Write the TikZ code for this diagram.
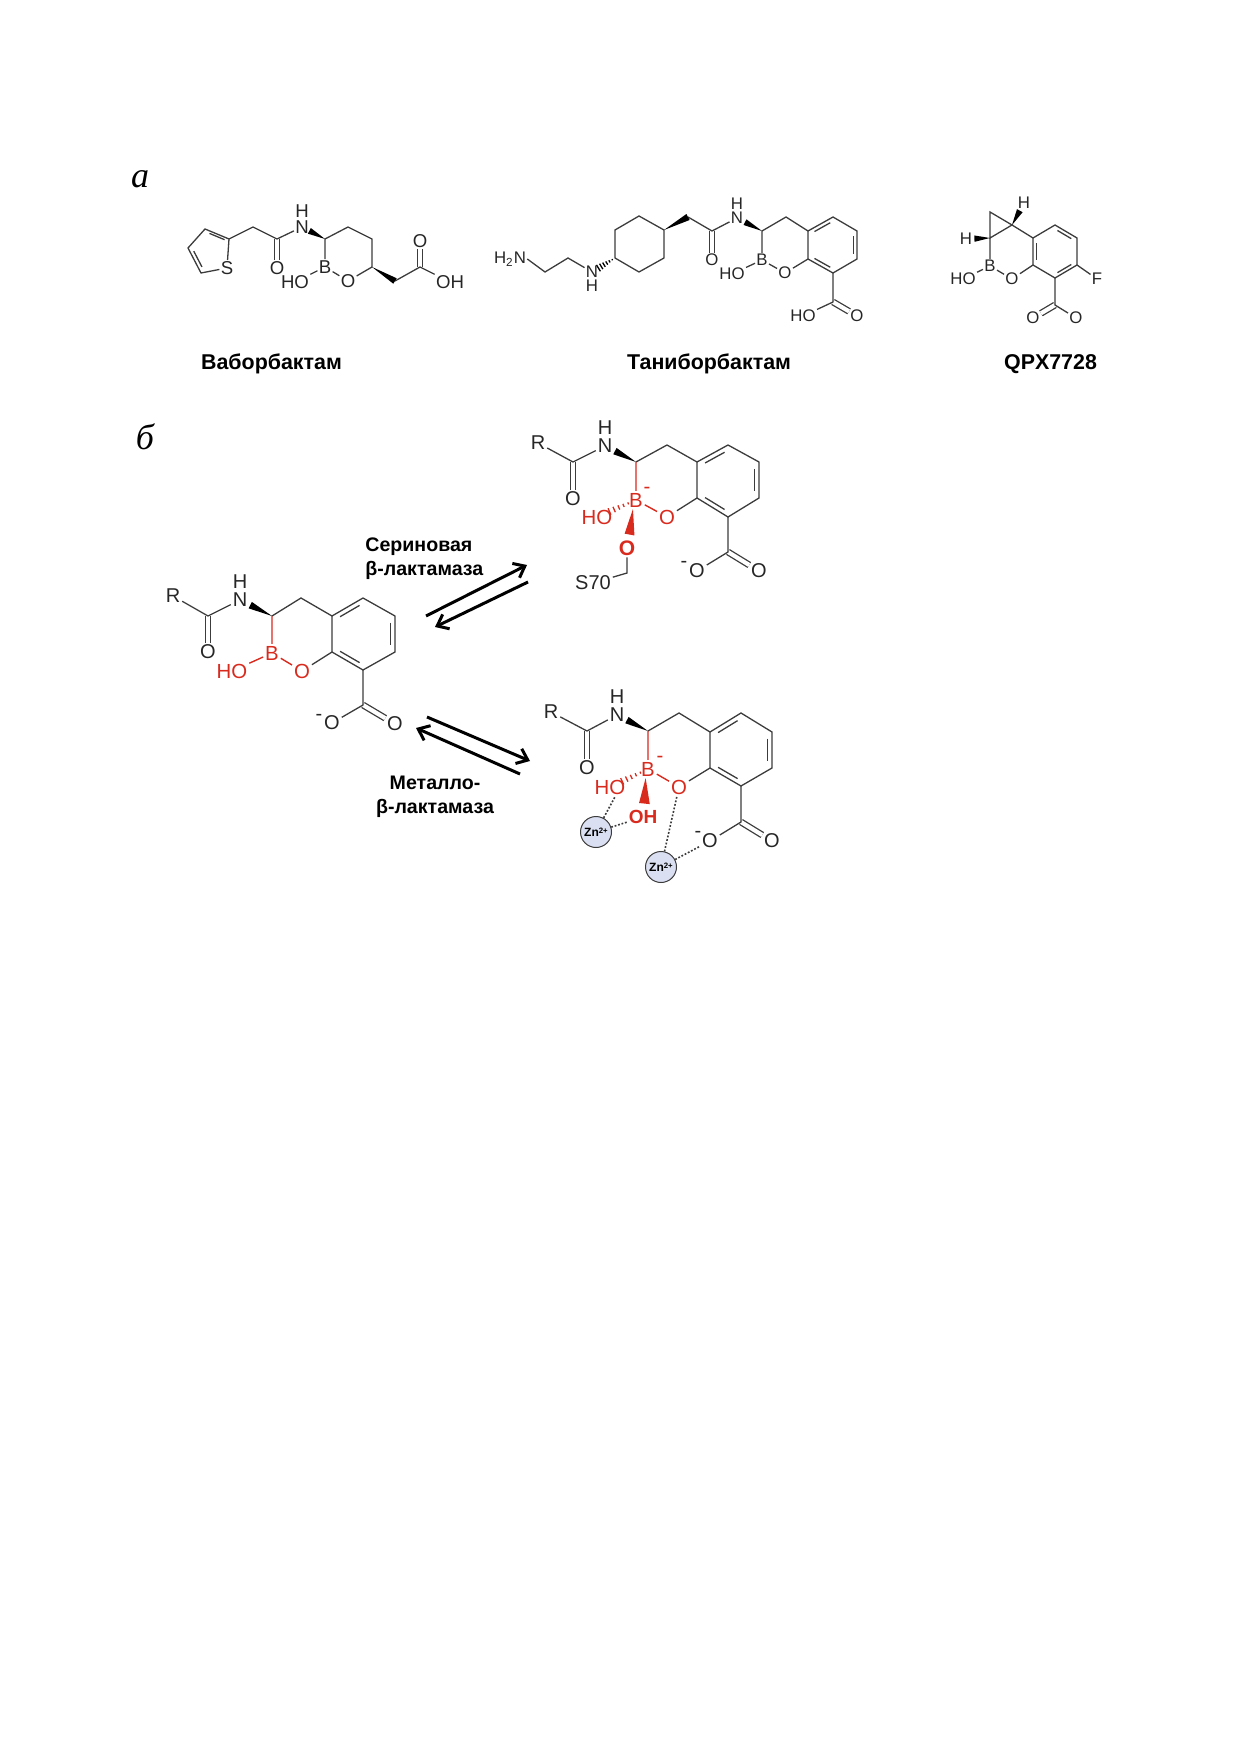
\documentclass[tikz,border=0pt]{standalone}
\usepackage{fontspec}
\setmainfont{Liberation Sans}
\newfontfamily\letterfont{Liberation Serif}
\usetikzlibrary{calc,arrows.meta}
\definecolor{boronred}{HTML}{D92A1E}
\definecolor{bondgrey}{HTML}{3C3C3C}
\definecolor{zincblue}{HTML}{DADFF1}
\tikzset{
  bond/.style={draw=bondgrey,line width=0.65pt},
  redbond/.style={draw=boronred,line width=0.7pt},
  dblbond/.style={bond,double,double distance=2.1pt},
  atom/.style={inner sep=0.5pt,text=black!85,font=\fontsize{8.4}{9}\selectfont},
  vaatom/.style={atom,font=\fontsize{9.3}{10}\selectfont},
  bigatom/.style={inner sep=0.8pt,text=black!85,font=\fontsize{10}{11}\selectfont},
  redatom/.style={bigatom,text=boronred,font=\fontsize{10.2}{11}\selectfont},
  boldatom/.style={redatom,font=\fontsize{9.5}{10}\selectfont\bfseries},
  namelabel/.style={font=\fontsize{10.7}{12}\selectfont\bfseries,inner sep=0pt},
  enzymelabel/.style={font=\fontsize{9.8}{11.8}\selectfont\bfseries,inner sep=0pt},
  partletter/.style={font=\fontsize{18}{18}\letterfont\itshape,inner sep=0pt},
  zinc/.style={circle,draw=bondgrey,line width=0.5pt,fill=zincblue,minimum size=15.5pt,inner sep=0pt,font=\fontsize{6}{6}\selectfont\bfseries},
  zbond/.style={draw=bondgrey,line width=0.8pt,dash pattern=on 0.9pt off 0.9pt},
  eqarrow/.style={draw=black,line width=1.5pt,-{Straight Barb[length=5pt,width=8pt]}}
}
% wedge from a tip towards a point: colour, tip, end, fraction, half width
\newcommand{\wedgebond}[5][black]{\fill[#1] (#2) -- ($(#2)!#4!(#3)!#5!90:(#2)$) -- ($(#2)!#4!(#3)!#5!-90:(#2)$) -- cycle;}
% hashed bond: colour, start, end, list of fractions
\newcommand{\hashbond}[4][black]{\foreach \t in {#4} \draw[#1,line width=0.65pt] ($(#2)!\t!(#3)!{\t*2.6pt}!90:(#3)$) -- ($(#2)!\t!(#3)!{\t*2.6pt}!-90:(#3)$);}
% inner line of an aromatic double bond: colour, start, end, ring centre
\newcommand{\innerbond}[4][bond]{\draw[#1] ($(#2)!.13!(#3)!.15!(#4)$) -- ($(#3)!.13!(#2)!.15!(#4)$);}
\newcommand{\zntext}{Zn\raisebox{0.5ex}{\fontsize{3.9}{4}\selectfont 2+}}
\begin{document}
\begin{tikzpicture}[x=0.5pt,y=-0.5pt]
  \useasboundingbox (0,0) rectangle (1240,1754);
  % Part letters
  \node[partletter] (lettera) at (140,179) {а};
  \node[partletter] (letterb) at (145,437) {б};

  % Vaborbactam
  \coordinate (va-c2) at (229,239);
  \coordinate (va-c3) at (205,229);
  \coordinate (va-c4) at (188,248);
  \coordinate (va-c5) at (201,273);
  \coordinate (va-ch) at (253,227);
  \coordinate (va-co) at (277,239);
  \coordinate (va-cs) at (325,239);
  \coordinate (va-c6) at (348,227);
  \coordinate (va-c7) at (372,239);
  \coordinate (va-c8) at (372,267);
  \coordinate (va-c9) at (395,281);
  \coordinate (va-ca) at (420,267);
  \coordinate (va-tc) at (217,251);
  \node[vaatom] (va-s) at (227,268) {S};
  \node[vaatom] (va-o1) at (277,268) {O};
  \node[vaatom] (va-n) at (302,227) {N};
  \node[vaatom] (va-h) at (302,211) {H};
  \node[vaatom] (va-b) at (325,267) {B};
  \node[vaatom] (va-ho) at (295,282) {HO};
  \node[vaatom] (va-o2) at (348,281) {O};
  \node[vaatom] (va-o3) at (420,241) {O};
  \node[vaatom] (va-oh) at (450,282) {OH};
  \draw[dblbond] (va-co) -- (va-o1);
  \draw[dblbond] (va-ca) -- (va-o3);
  \draw[bond] (va-c2) -- (va-c3) -- (va-c4) -- (va-c5) -- (va-s) -- (va-c2) -- (va-ch) -- (va-co) -- (va-n);
  \innerbond{va-c2}{va-c3}{va-tc}
  \innerbond{va-c4}{va-c5}{va-tc}
  \draw[bond] (va-cs) -- (va-c6) -- (va-c7) -- (va-c8) -- (va-o2) -- (va-b) -- (va-cs);
  \draw[bond] (va-b) -- (va-ho);
  \draw[bond] (va-c9) -- (va-ca) -- (va-oh);
  \wedgebond{va-cs}{va-n}{.68}{1.6pt}
  \wedgebond{va-c8}{va-c9}{1}{1.6pt}
  \node[namelabel] (va-name) at (271.5,364) {Ваборбактам};

  % Taniborbactam
  \coordinate (ta-c1) at (545,272);
  \coordinate (ta-c2) at (568,258);
  \coordinate (ta-h1) at (615,258);
  \coordinate (ta-h2) at (615,230);
  \coordinate (ta-h3) at (639,216);
  \coordinate (ta-h4) at (664,230);
  \coordinate (ta-h5) at (664,258);
  \coordinate (ta-h6) at (639,272);
  \coordinate (ta-c3) at (688,217);
  \coordinate (ta-co) at (712,231);
  \coordinate (ta-cs) at (762,231);
  \coordinate (ta-c4) at (786,217);
  \coordinate (ta-a1) at (808,231);
  \coordinate (ta-a2) at (833,217);
  \coordinate (ta-a3) at (857,231);
  \coordinate (ta-a4) at (857,259);
  \coordinate (ta-a5) at (833,273);
  \coordinate (ta-a6) at (808,259);
  \coordinate (ta-ar) at (833,245);
  \coordinate (ta-cc) at (833,302);
  \node[atom] (ta-h2n) at (510,259) {H\textsubscript{2}N};
  \node[atom] (ta-n1) at (592,272) {N};
  \node[atom] (ta-hn) at (592,286) {H};
  \node[atom] (ta-o1) at (712,260) {O};
  \node[atom] (ta-n2) at (737,218) {N};
  \node[atom] (ta-h) at (737,204) {H};
  \node[atom] (ta-b) at (762,260) {B};
  \node[atom] (ta-ho) at (732,274) {HO};
  \node[atom] (ta-o2) at (785,273) {O};
  \node[atom] (ta-o3) at (857,316) {O};
  \node[atom] (ta-oh) at (803,316) {HO};
  \draw[dblbond] (ta-co) -- (ta-o1);
  \draw[dblbond] (ta-cc) -- (ta-o3);
  \draw[bond] (ta-h2n.east) -- (ta-c1) -- (ta-c2) -- (ta-n1);
  \draw[bond] (ta-h1) -- (ta-h2) -- (ta-h3) -- (ta-h4) -- (ta-h5) -- (ta-h6) -- cycle;
  \draw[bond] (ta-c3) -- (ta-co) -- (ta-n2);
  \draw[bond] (ta-cs) -- (ta-c4) -- (ta-a1);
  \draw[bond] (ta-a1) -- (ta-a2) -- (ta-a3) -- (ta-a4) -- (ta-a5) -- (ta-a6) -- cycle;
  \draw[bond] (ta-cs) -- (ta-b) -- (ta-o2) -- (ta-a6);
  \draw[bond] (ta-b) -- (ta-ho);
  \draw[bond] (ta-a5) -- (ta-cc) -- (ta-oh);
  \innerbond{ta-a1}{ta-a2}{ta-ar}
  \innerbond{ta-a3}{ta-a4}{ta-ar}
  \innerbond{ta-a5}{ta-a6}{ta-ar}
  \wedgebond{ta-h4}{ta-c3}{1}{1.7pt}
  \wedgebond{ta-cs}{ta-n2}{.68}{1.6pt}
  \hashbond{ta-h1}{ta-n1}{.12,.24,...,.75}
  \node[namelabel] (ta-name) at (709,364) {Таниборбактам};

  % QPX7728
  \coordinate (qp-c1) at (990,212);
  \coordinate (qp-c2) at (1012,225);
  \coordinate (qp-c3) at (990,238);
  \coordinate (qp-a1) at (1033,238);
  \coordinate (qp-a2) at (1055,225);
  \coordinate (qp-a3) at (1077,238);
  \coordinate (qp-a4) at (1077,265);
  \coordinate (qp-a5) at (1055,278);
  \coordinate (qp-a6) at (1033,265);
  \coordinate (qp-ar) at (1055,252);
  \coordinate (qp-cc) at (1055,305);
  \node[atom] (qp-h1) at (1024,203) {H};
  \node[atom] (qp-h2) at (966,239) {H};
  \node[atom] (qp-b) at (990,266) {B};
  \node[atom] (qp-ho) at (963,279) {HO};
  \node[atom] (qp-o1) at (1012,279) {O};
  \node[atom] (qp-f) at (1097,279) {F};
  \node[atom] (qp-o2) at (1033,318) {O};
  \node[atom] (qp-o3) at (1076,318) {O};
  \draw[dblbond] (qp-cc) -- (qp-o2);
  \draw[bond] (qp-c1) -- (qp-c2) -- (qp-c3) -- cycle;
  \draw[bond] (qp-c2) -- (qp-a1);
  \draw[bond] (qp-a1) -- (qp-a2) -- (qp-a3) -- (qp-a4) -- (qp-a5) -- (qp-a6) -- cycle;
  \draw[bond] (qp-c3) -- (qp-b) -- (qp-o1) -- (qp-a6);
  \draw[bond] (qp-b) -- (qp-ho);
  \draw[bond] (qp-a4) -- (qp-f);
  \draw[bond] (qp-a5) -- (qp-cc) -- (qp-o3);
  \innerbond{qp-a1}{qp-a6}{qp-ar}
  \innerbond{qp-a2}{qp-a3}{qp-ar}
  \innerbond{qp-a4}{qp-a5}{qp-ar}
  \wedgebond{qp-c2}{qp-h1}{.65}{1.6pt}
  \wedgebond{qp-c3}{qp-h2}{.65}{1.6pt}
  \node[namelabel] (qp-name) at (1050.5,364) {QPX7728};

  % Free inhibitor on the left
  \coordinate (le-co) at (208,616);
  \coordinate (le-cs) at (272,616);
  \coordinate (le-c1) at (301,598);
  \coordinate (le-a1) at (332,616);
  \coordinate (le-a2) at (363,598);
  \coordinate (le-a3) at (395,616);
  \coordinate (le-a4) at (395,652);
  \coordinate (le-a5) at (363,670);
  \coordinate (le-a6) at (332,652);
  \coordinate (le-ar) at (363,634);
  \coordinate (le-cc) at (363,705);
  \node[bigatom] (le-r) at (173,596) {R};
  \node[bigatom] (le-o1) at (208,652) {O};
  \node[bigatom] (le-n) at (240,600) {N};
  \node[bigatom] (le-h) at (240,582) {H};
  \node[redatom] (le-b) at (272,653) {B};
  \node[redatom] (le-ho) at (232,671) {HO};
  \node[redatom] (le-o2) at (302,671) {O};
  \node[bigatom] (le-o3) at (395,724) {O};
  \node[bigatom] (le-om) at (332,723) {O};
  \node[bigatom] (le-mi) at (319,717) {-};
  \draw[dblbond] (le-co) -- (le-o1);
  \draw[dblbond] (le-cc) -- (le-o3);
  \draw[bond] (le-r) -- (le-co) -- (le-n);
  \draw[bond] (le-cs) -- (le-c1) -- (le-a1);
  \draw[bond] (le-a1) -- (le-a2) -- (le-a3) -- (le-a4) -- (le-a5) -- (le-a6) -- cycle;
  \draw[bond] (le-o2) -- (le-a6);
  \draw[bond] (le-a5) -- (le-cc) -- (le-om);
  \draw[redbond] (le-cs) -- (le-b) -- (le-o2);
  \draw[redbond] (le-b) -- (le-ho);
  \innerbond{le-a1}{le-a2}{le-ar}
  \innerbond{le-a3}{le-a4}{le-ar}
  \innerbond{le-a5}{le-a6}{le-ar}
  \wedgebond{le-cs}{le-n}{.68}{1.8pt}

  % Adduct with serine beta-lactamase
  \coordinate (se-co) at (573,462);
  \coordinate (se-cs) at (636,462);
  \coordinate (se-c1) at (667,445);
  \coordinate (se-a1) at (697,462);
  \coordinate (se-a2) at (728,445);
  \coordinate (se-a3) at (759,462);
  \coordinate (se-a4) at (759,498);
  \coordinate (se-a5) at (728,517);
  \coordinate (se-a6) at (697,498);
  \coordinate (se-ar) at (728,481);
  \coordinate (se-cc) at (728,552);
  \coordinate (se-c2) at (627,573);
  \node[bigatom] (se-r) at (538,443) {R};
  \node[bigatom] (se-o1) at (573,499) {O};
  \node[bigatom] (se-n) at (605,446) {N};
  \node[bigatom] (se-h) at (605,428) {H};
  \node[redatom] (se-b) at (636,500) {B};
  \node[redatom] (se-mi) at (647,490) {-};
  \node[redatom] (se-ho) at (597,517) {HO};
  \node[redatom] (se-o2) at (667,517) {O};
  \node[boldatom,font=\fontsize{10.5}{11}\selectfont\bfseries] (se-o4) at (627,548) {O};
  \node[bigatom] (se-s) at (593,583) {S70};
  \node[bigatom] (se-o3) at (759,571) {O};
  \node[bigatom] (se-om) at (697,571) {O};
  \node[bigatom] (se-mj) at (684,564) {-};
  \draw[dblbond] (se-co) -- (se-o1);
  \draw[dblbond] (se-cc) -- (se-o3);
  \draw[bond] (se-r) -- (se-co) -- (se-n);
  \draw[bond] (se-cs) -- (se-c1) -- (se-a1);
  \draw[bond] (se-a1) -- (se-a2) -- (se-a3) -- (se-a4) -- (se-a5) -- (se-a6) -- cycle;
  \draw[bond] (se-o2) -- (se-a6);
  \draw[bond] (se-a5) -- (se-cc) -- (se-om);
  \draw[bond] (se-o4) -- (se-c2) -- (se-s);
  \draw[redbond] (se-cs) -- (se-b) -- (se-o2);
  \innerbond{se-a1}{se-a2}{se-ar}
  \innerbond{se-a3}{se-a4}{se-ar}
  \innerbond{se-a5}{se-a6}{se-ar}
  \wedgebond{se-cs}{se-n}{.68}{1.8pt}
  \wedgebond[boronred]{se-b}{se-o4}{.72}{2.5pt}
  \hashbond[boronred]{se-b}{se-ho}{.2,.32,.44,.56,.68}

  % Adduct with metallo-beta-lactamase
  \coordinate (me-co) at (587,731);
  \coordinate (me-cs) at (648,731);
  \coordinate (me-c1) at (679,713);
  \coordinate (me-a1) at (710,732);
  \coordinate (me-a2) at (741,713);
  \coordinate (me-a3) at (772,732);
  \coordinate (me-a4) at (772,768);
  \coordinate (me-a5) at (741,786);
  \coordinate (me-a6) at (710,768);
  \coordinate (me-ar) at (741,750);
  \coordinate (me-cc) at (741,822);
  \node[bigatom] (me-r) at (551,712) {R};
  \node[bigatom] (me-o1) at (587,768) {O};
  \node[bigatom] (me-n) at (617,715) {N};
  \node[bigatom] (me-h) at (617,697) {H};
  \node[redatom] (me-b) at (648,769) {B};
  \node[redatom] (me-mi) at (660,759) {-};
  \node[redatom] (me-ho) at (610,787) {HO};
  \node[redatom] (me-o2) at (679,787) {O};
  \node[boldatom] (me-oh) at (643,817) {OH};
  \node[bigatom] (me-o3) at (772,841) {O};
  \node[bigatom] (me-om) at (710,841) {O};
  \node[bigatom] (me-mj) at (698,834) {-};
  \node[zinc] (me-zna) at (596,832) {\zntext};
  \node[zinc] (me-znb) at (661,867) {\zntext};
  \draw[dblbond] (me-co) -- (me-o1);
  \draw[dblbond] (me-cc) -- (me-o3);
  \draw[bond] (me-r) -- (me-co) -- (me-n);
  \draw[bond] (me-cs) -- (me-c1) -- (me-a1);
  \draw[bond] (me-a1) -- (me-a2) -- (me-a3) -- (me-a4) -- (me-a5) -- (me-a6) -- cycle;
  \draw[bond] (me-o2) -- (me-a6);
  \draw[bond] (me-a5) -- (me-cc) -- (me-om);
  \draw[redbond] (me-cs) -- (me-b) -- (me-o2);
  \innerbond{me-a1}{me-a2}{me-ar}
  \innerbond{me-a3}{me-a4}{me-ar}
  \innerbond{me-a5}{me-a6}{me-ar}
  \wedgebond{me-cs}{me-n}{.68}{1.8pt}
  \wedgebond[boronred]{me-b}{me-oh}{.72}{2.7pt}
  \hashbond[boronred]{me-b}{me-ho}{.2,.32,.44,.56,.68}
  % Zinc contacts
  \draw[zbond] (me-zna) -- (me-ho.-60);
  \draw[zbond] (me-zna) -- (me-oh);
  \draw[zbond] (me-znb) -- (me-o2);
  \draw[zbond] (me-znb) -- (me-om);

  % Equilibrium arrows
  \coordinate (ar-a) at (426,616);
  \coordinate (ar-b) at (527,565);
  \coordinate (ar-c) at (528,582);
  \coordinate (ar-d) at (435,627);
  \coordinate (ar-e) at (427,717);
  \coordinate (ar-f) at (530,761);
  \coordinate (ar-g) at (520,774);
  \coordinate (ar-h) at (416,728);
  \draw[eqarrow] (ar-a) -- (ar-b);
  \draw[eqarrow] (ar-c) -- (ar-d);
  \draw[eqarrow] (ar-e) -- (ar-f);
  \draw[eqarrow] (ar-g) -- (ar-h);
  \node[enzymelabel,align=left,anchor=west] (se-name) at (365,558.5) {Сериновая\\β-лактамаза};
  \node[enzymelabel,align=center] (me-name) at (435,797) {Металло-\\β-лактамаза};
\end{tikzpicture}
\end{document}
